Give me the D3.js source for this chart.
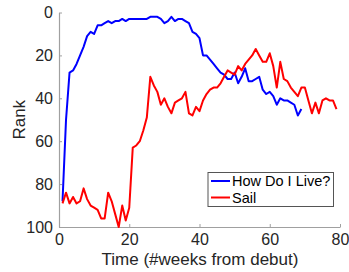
<!DOCTYPE html>
<html>
<head>
<meta charset="utf-8">
<script src="https://cdn.jsdelivr.net/npm/d3@7"></script>
<style>
  body { margin: 0; background: #fff; }
  svg { display: block; font-family: "Liberation Sans", Arial, sans-serif; }
</style>
</head>
<body>
<div id="chart"></div>
<script>
// weekly chart rank, week 1 onward
let howDoILive = [88, 50, 28, 27, 24, 20, 16, 11, 9, 10, 6, 6, 5, 4, 5, 4, 4, 3, 4, 3,
  3, 3, 3, 3, 3, 2, 2, 2, 3, 5, 4, 2, 4, 3, 3, 4, 5, 9, 10, 12,
  20, 20, 22, 24, 26, 28, 29, 31, 31, 28, 33, 30, 26, 32, 32, 31, 30, 36, 38, 37,
  39, 43, 40, 41, 41, 42, 43, 48, 45];
let sail = [89, 84, 89, 86, 89, 88, 82, 87, 90, 91, 92, 96, 96, 84, 88, 94, 100, 90, 97, 91,
  63, 62, 60, 55, 49, 30, 34, 37, 43, 40, 44, 47, 42, 41, 40, 37, 47, 48, 44, 46,
  41, 38, 36, 35, 35, 33, 30, 27, 28, 29, 25, 27, 24, 22, 20, 17, 20, 23, 23, 19,
  25, 35, 23, 31, 32, 35, 37, 39, 35, 35, 41, 47, 42, 47, 41, 40, 41, 41, 45];
let seriesNames = ["How Do I Live?", "Sail"];
let seriesColors = ["#0000ff", "#ff0000"];
let xTicks = [0, 20, 40, 60, 80];
let yTicks = [0, 20, 40, 60, 80, 100];

let width = 349, height = 272;
let svg = d3.select("#chart").append("svg")
  .attr("width", width)
  .attr("height", height);

let x = d3.scaleLinear().domain([0, 80]).range([59, 340]);
let y = d3.scaleLinear().domain([0, 100]).range([12.5, 227]);

// axes (MATLAB style: ticks inside, box off)
let xAxis = svg.append("g")
  .attr("transform", `translate(0,${y(100)})`)
  .call(d3.axisBottom(x).tickValues(xTicks).tickSizeInner(-3).tickSizeOuter(0).tickPadding(7));
let yAxis = svg.append("g")
  .attr("transform", `translate(${x(0)},0)`)
  .call(d3.axisLeft(y).tickValues(yTicks).tickSizeInner(-3).tickSizeOuter(0).tickPadding(6));

[xAxis, yAxis].forEach(a => {
  a.select(".domain").attr("stroke", "#a0a0a0").attr("stroke-width", 1.2);
  a.selectAll(".tick line").attr("stroke", "#a0a0a0");
  a.selectAll(".tick text").attr("fill", "#262626").attr("font-size", "16px")
    .attr("font-family", "Liberation Sans, Arial, sans-serif");
});

let line = d3.line()
  .x((d, i) => x(i + 1))
  .y(d => y(d));

[howDoILive, sail].forEach((s, i) => {
  svg.append("path")
    .datum(s)
    .attr("fill", "none")
    .attr("stroke", seriesColors[i])
    .attr("stroke-width", 2)
    .attr("stroke-linejoin", "round")
    .attr("d", line);
});

// axis titles
svg.append("text")
  .attr("x", 200)
  .attr("y", 264.5)
  .attr("text-anchor", "middle")
  .attr("font-size", "17px")
  .attr("fill", "#262626")
  .text("Time (#weeks from debut)");

svg.append("text")
  .attr("transform", `translate(24.5,${(y(0) + y(100)) / 2}) rotate(-90)`)
  .attr("text-anchor", "middle")
  .attr("font-size", "17px")
  .attr("fill", "#262626")
  .text("Rank");

// legend
let lg = svg.append("g").attr("transform", "translate(208,172.5)");
lg.append("rect")
  .attr("width", 125.5)
  .attr("height", 34)
  .attr("fill", "#fff")
  .attr("stroke", "#555")
  .attr("stroke-width", 1);
seriesNames.forEach((n, i) => {
  let row = 8.5 + i * 16.5;
  lg.append("line")
    .attr("x1", 3).attr("x2", 22)
    .attr("y1", row).attr("y2", row)
    .attr("stroke", seriesColors[i])
    .attr("stroke-width", 2);
  lg.append("text")
    .attr("x", 24)
    .attr("y", row + 5)
    .attr("font-size", "14.5px")
    .attr("fill", "#000")
    .text(n);
});
</script>
</body>
</html>
